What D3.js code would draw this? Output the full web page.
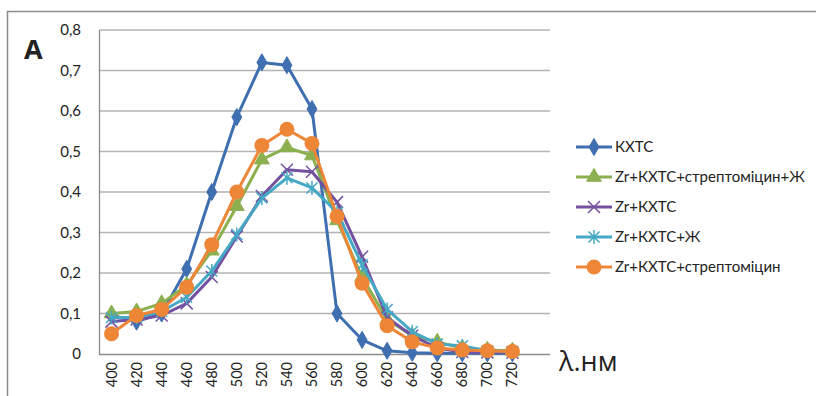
<!DOCTYPE html>
<html>
<head>
<meta charset="utf-8">
<script src="https://cdn.jsdelivr.net/npm/d3@7"></script>
<style>
  body { margin: 0; background: #fff; }
  svg text { font-family: Lato, "Open Sans", sans-serif; fill: #222; }
</style>
</head>
<body>
<div id="chart"></div>
<script>
// ---------------- data ----------------
const waves = [400, 420, 440, 460, 480, 500, 520, 540, 560, 580, 600, 620, 640, 660, 680, 700, 720];
const yTicks = [0, 0.1, 0.2, 0.3, 0.4, 0.5, 0.6, 0.7, 0.8];

const seriesNames = ["КХТС", "Zr+КХТС+стрептоміцин+Ж", "Zr+КХТС", "Zr+КХТС+Ж", "Zr+КХТС+стрептоміцин"];
const khts      = [0.096, 0.08, 0.1, 0.21, 0.40, 0.585, 0.72, 0.713, 0.605, 0.10, 0.035, 0.008, 0.003, 0.002, 0.002, 0.002, 0.002];
const zrStrepZh = [0.10, 0.105, 0.125, 0.17, 0.255, 0.365, 0.48, 0.51, 0.49, 0.33, 0.19, 0.085, 0.045, 0.03, 0.015, 0.01, 0.008];
const zrKhts    = [0.08, 0.085, 0.095, 0.125, 0.19, 0.29, 0.39, 0.455, 0.45, 0.375, 0.24, 0.09, 0.045, 0.015, 0.005, 0.004, 0.003];
const zrZh      = [0.09, 0.09, 0.105, 0.14, 0.205, 0.295, 0.385, 0.435, 0.41, 0.35, 0.22, 0.11, 0.055, 0.025, 0.02, 0.008, 0.006];
const zrStrep   = [0.05, 0.095, 0.11, 0.165, 0.27, 0.40, 0.515, 0.555, 0.52, 0.34, 0.175, 0.07, 0.03, 0.015, 0.01, 0.008, 0.006];

const allValues = [khts, zrStrepZh, zrKhts, zrZh, zrStrep];
const colors = ["#3f6fb0", "#8cb050", "#7451a0", "#45a8c4", "#ee8638"];
const markers = ["diamond", "triangle", "cross", "star", "circle"];

// ---------------- layout ----------------
const W = 816, H = 396;
const margin = {top: 30, left: 99};
const plotW = 451, plotH = 324;

const svg = d3.select("#chart").append("svg")
  .attr("width", W).attr("height", H);

// outer chart border (left + top only visible)
svg.append("path")
  .attr("d", `M7.5,${H} V11.5 H${W}`)
  .attr("fill", "none").attr("stroke", "#8c8c8c").attr("stroke-width", 1.5);

const g = svg.append("g").attr("transform", `translate(${margin.left},${margin.top})`);

// one extra empty slot on the right, as in the original
const x = d3.scaleBand().domain(waves).range([0, plotW * waves.length / (waves.length + 1)]);
const y = d3.scaleLinear().domain([0, 0.8]).range([plotH, 0]);
const cx = d => x(d) + x.bandwidth() / 2;

// grid
g.selectAll(".grid").data(yTicks.slice(1)).enter().append("line")
  .attr("x1", 0).attr("x2", plotW)
  .attr("y1", d => y(d)).attr("y2", d => y(d))
  .attr("stroke", "#b3b3b3").attr("stroke-width", 1.3);

// axes
const yAxis = g.append("g").call(d3.axisLeft(y).tickValues(yTicks).tickSize(0).tickPadding(18)
  .tickFormat(d => d === 0 ? "0" : d3.format(".1f")(d).replace(".", ",")));
yAxis.select(".domain").attr("stroke", "#8c8c8c").attr("stroke-width", 1.3);
yAxis.selectAll("text").style("font-size", "15px").attr("fill", "#222");

const xAxis = g.append("g").attr("transform", `translate(0,${plotH})`)
  .call(d3.axisBottom(x).tickSize(0).tickSizeOuter(0));
xAxis.select(".domain").attr("d", `M0,0.5H${plotW}`).attr("stroke", "#8c8c8c").attr("stroke-width", 1.3);
xAxis.selectAll("text")
  .attr("transform", "rotate(-90)")
  .attr("text-anchor", "end")
  .attr("x", -8).attr("y", 0).attr("dy", "0.35em")
  .style("font-size", "14.5px").attr("fill", "#222");

// marker shapes
function drawMarker(sel, type, color) {
  if (type === "diamond") {
    sel.append("path").attr("d", d3.symbol(d3.symbolDiamond, 85)()).attr("fill", color).attr("stroke", color);
  } else if (type === "triangle") {
    sel.append("path").attr("d", d3.symbol(d3.symbolTriangle, 95)()).attr("fill", color).attr("stroke", color);
  } else if (type === "circle") {
    sel.append("circle").attr("r", 7.5).attr("fill", color);
  } else if (type === "cross") {
    sel.append("path").attr("d", "M-6,-6L6,6M-6,6L6,-6").attr("stroke", color).attr("stroke-width", 1.5).attr("fill", "none");
  } else if (type === "star") {
    sel.append("path").attr("d", "M-5.5,-5.5L5.5,5.5M-5.5,5.5L5.5,-5.5M0,-7V7").attr("stroke", color).attr("stroke-width", 1.5).attr("fill", "none");
  }
}

// series
const line = d3.line().x((d, i) => cx(waves[i])).y(d => y(d));
allValues.forEach((vals, k) => {
  const sg = g.append("g");
  sg.append("path").datum(vals).attr("d", line)
    .attr("fill", "none").attr("stroke", colors[k]).attr("stroke-width", 3).attr("stroke-linejoin", "round");
  sg.selectAll(".m").data(vals).enter().append("g")
    .attr("transform", (d, i) => `translate(${cx(waves[i])},${y(d)})`)
    .each(function() { drawMarker(d3.select(this), markers[k], colors[k]); });
});

// axis titles
svg.append("text").attr("x", 24).attr("y", 59).text("A")
  .style("font-family", "'Open Sans', sans-serif")
  .style("font-size", "27px").style("font-weight", "700").attr("fill", "#000");
svg.append("text").attr("x", 559).attr("y", 371).text("λ.нм")
  .style("font-family", "'Open Sans', sans-serif")
  .style("font-size", "27px").attr("fill", "#111");

// legend
const legend = svg.append("g").attr("transform", "translate(576,147)");
seriesNames.forEach((name, k) => {
  const row = legend.append("g").attr("transform", `translate(0,${k * 30})`);
  row.append("line").attr("x1", 0).attr("x2", 36).attr("y1", 0).attr("y2", 0)
    .attr("stroke", colors[k]).attr("stroke-width", 3);
  const m = row.append("g").attr("transform", "translate(18,0)");
  drawMarker(m, markers[k], colors[k]);
  row.append("text").attr("x", 39).attr("y", 0).attr("dy", "0.35em").text(name)
    .style("font-size", "15px");
});
</script>
</body>
</html>
